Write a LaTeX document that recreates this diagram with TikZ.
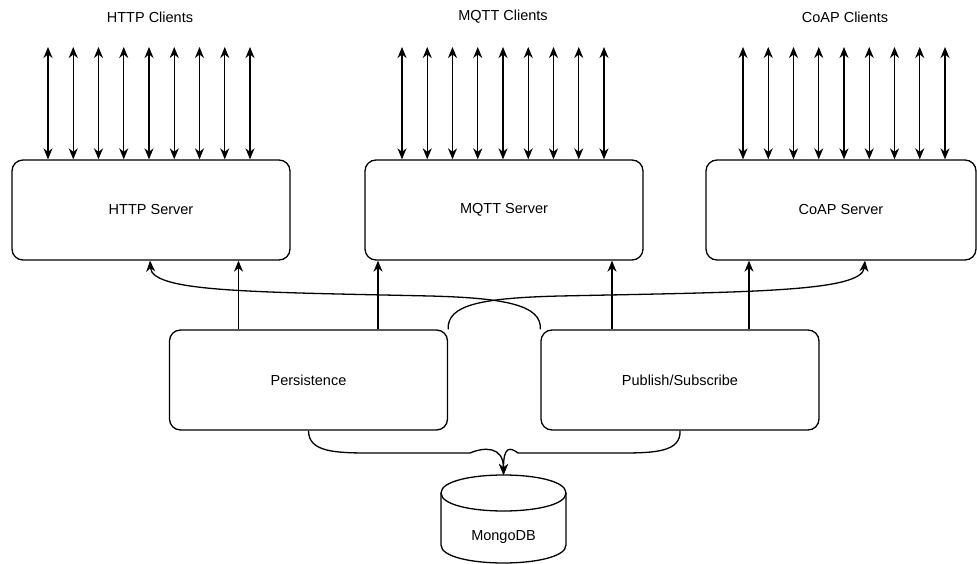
\documentclass[tikz,border=0pt]{standalone}
\usepackage{fontspec}
\setmainfont{Liberation Sans}
\usetikzlibrary{arrows.meta}

\begin{document}
\begin{tikzpicture}[x=1pt,y=-1pt,
  line width=1.3pt,
  txt/.style={font=\fontsize{14.5}{17}\selectfont},
  box/.style={draw, rounded corners=11pt, minimum width=278pt, minimum height=100pt,
    inner sep=0pt, txt},
  tip/.style={-{Stealth[length=11pt,width=9pt,inset=3.5pt]}},
  dtip/.style={{Stealth[length=11pt,width=9pt,inset=3.5pt]}-{Stealth[length=11pt,width=9pt,inset=3.5pt]}},
]
\useasboundingbox (0,0) rectangle (977,564);

% client group titles
\node[txt] (httpt) at (150,17) {HTTP Clients};
\node[txt] (mqttt) at (503,17) {MQTT Clients};
\node[txt] (coapt) at (845,17) {CoAP Clients};

% protocol servers
\node[box] (http) at (151,210) {HTTP Server};
\node[box] (mqtt) at (504,210) {MQTT Server};
\node[box, minimum width=270pt] (coap) at (841,210) {CoAP Server};

% back-end services
\node[box] (pers) at (308.5,380) {Persistence};
\node[box] (pubsub) at (680,380) {Publish/Subscribe};

% database cylinder
\node[minimum width=125pt, minimum height=88pt, inner sep=0pt, outer sep=0pt] (db) at (503.5,519) {};
\draw (441,493) .. controls (441,469) and (566,469) .. (566,493) -- (566,545)
      .. controls (566,569) and (441,569) .. (441,545) -- cycle;
\draw (441,493) .. controls (441,517) and (566,517) .. (566,493);
\node[txt] (dbtxt) at (503.5,537) {MongoDB};

% client connections
\coordinate (hc) at (48,47);
\coordinate (mc) at (402,47);
\coordinate (cc) at (743,47);
\foreach \k in {0,...,8}{
  \path (hc) ++(\k*25.25,0) coordinate (ht);
  \draw[dtip] (ht) -- (ht |- http.north);
  \path (mc) ++(\k*25.25,0) coordinate (mt);
  \draw[dtip] (mt) -- (mt |- mqtt.north);
  \path (cc) ++(\k*25.25,0) coordinate (ct);
  \draw[dtip] (ct) -- (ct |- coap.north);
}

% persistence to servers
\draw[tip] ([xshift=-70pt]pers.north) -- ([xshift=-70pt]pers.north |- http.south);
\draw[tip] ([xshift=69.5pt]pers.north) -- ([xshift=69.5pt]pers.north |- mqtt.south);
\draw[tip] (pers.north east) .. controls (447,305) and (480,298) .. (560,296)
      .. controls (750,292) and (862,292) .. ([xshift=24pt]coap.south);

% publish/subscribe to servers
\draw[tip] ([xshift=-68pt]pubsub.north) -- ([xshift=-68pt]pubsub.north |- mqtt.south);
\draw[tip] ([xshift=69pt]pubsub.north) -- ([xshift=69pt]pubsub.north |- coap.south);
\draw[tip] (pubsub.north west) .. controls (542,305) and (505,298) .. (430,296)
      .. controls (250,292) and (152,292) .. ([xshift=-1pt]http.south);

% storage links
\draw[tip] (pers.south) .. controls (308.5,452) and (335,453) .. (370,453) -- (470,453)
      .. controls (484,447) and (503.5,446) .. (db.north);
\draw[tip] (pubsub.south) .. controls (681,452) and (655,453) .. (620,453) -- (518,453)
      .. controls (510,447) and (503.5,446) .. (db.north);
\end{tikzpicture}
\end{document}
